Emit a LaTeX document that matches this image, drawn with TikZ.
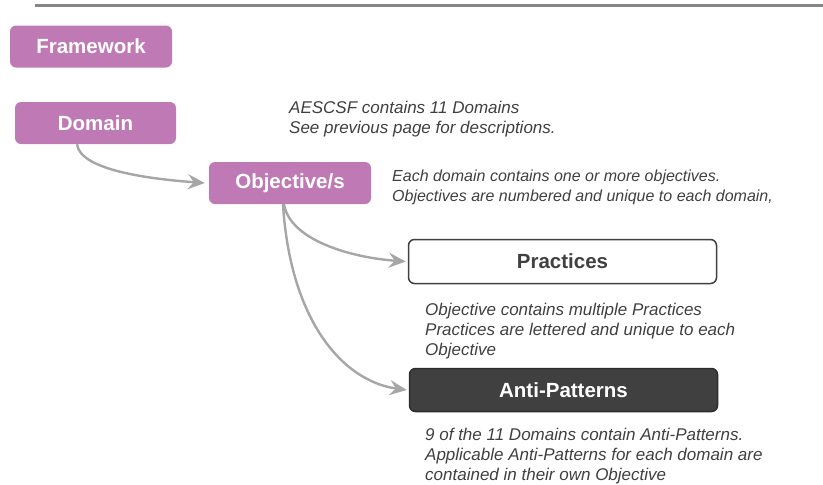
\documentclass[tikz,border=0pt]{standalone}
\usepackage{fontspec}
\setmainfont{Liberation Sans}
\usetikzlibrary{arrows.meta}
\definecolor{purp}{RGB}{191,122,182}
\definecolor{darktxt}{RGB}{64,64,64}
\definecolor{arrgray}{RGB}{166,166,166}
\definecolor{topline}{RGB}{135,135,135}
\definecolor{darkbox}{RGB}{64,64,64}
\definecolor{darkedge}{RGB}{45,45,45}
\tikzset{
  x=1pt,y=-1pt,
  purpbox/.style={rectangle,rounded corners=6pt,fill=purp,text=white,
    font=\fontsize{20.5}{24}\selectfont\bfseries,inner sep=0pt},
  whitebox/.style={rectangle,rounded corners=6pt,draw=darktxt,line width=1.5pt,fill=white,
    text=darktxt,font=\fontsize{20.5}{24}\selectfont\bfseries,inner sep=0pt},
  blackbox/.style={rectangle,rounded corners=6pt,draw=darkedge,line width=1.5pt,fill=darkbox,
    text=white,font=\fontsize{20.5}{24}\selectfont\bfseries,inner sep=0pt},
  desc/.style={anchor=base west,inner sep=0pt,text=darktxt,align=left,
    font=\fontsize{17}{20}\selectfont\itshape},
  descsmall/.style={anchor=base west,inner sep=0pt,text=darktxt,align=left,
    font=\fontsize{16}{19.5}\selectfont\itshape},
  conn/.style={draw=arrgray,line width=2.4pt,
    -{Stealth[length=17pt,width=15pt,inset=6pt,fill=arrgray]}},
}
\begin{document}
\begin{tikzpicture}
\useasboundingbox (0,0) rectangle (823,485);
\fill[white] (0,0) rectangle (823,485);
\coordinate (tl) at (35,5.5);
\coordinate (tr) at (823,5.5);
\draw[topline,line width=2.8pt] (tl) -- (tr);

\node[purpbox,minimum width=162pt,minimum height=42pt] (fw) at (91,46.5) {Framework};
\node[purpbox,minimum width=161pt,minimum height=42pt] (dom) at (95.5,123) {Domain};
\node[purpbox,minimum width=162pt,minimum height=42pt] (obj) at (290,183) {Objective/s};
\node[whitebox,minimum width=308pt,minimum height=44pt] (prac) at (562.5,261.5) {Practices};
\node[blackbox,minimum width=308pt,minimum height=43pt] (anti) at (563.5,390) {Anti-Patterns};

\node[desc] (t1) at (289,133) {AESCSF contains 11 Domains\\See previous page for descriptions.};
\node[descsmall] (t2) at (392,201) {Each domain contains one or more objectives.\\Objectives are numbered and unique to each domain,};
\node[desc] (t3) at (425,355) {Objective contains multiple Practices\\Practices are lettered and unique to each\\Objective};
\node[desc] (t4) at (425,480) {9 of the 11 Domains contain Anti-Patterns.\\Applicable Anti-Patterns for each domain are\\contained in their own Objective};

\draw[conn] ([xshift=-18.5pt]dom.south) .. controls +(3,26) and +(-55,-4) .. ([xshift=-4pt]obj.west);
\draw[conn] ([xshift=-6pt]obj.south) .. controls +(6,36) and +(-55,-4) .. ([xshift=-2pt]prac.west);
\draw[conn] ([xshift=-7pt]obj.south) .. controls +(7,115) and +(-65,-9) .. ([xshift=-2pt]anti.west);
\end{tikzpicture}
\end{document}
